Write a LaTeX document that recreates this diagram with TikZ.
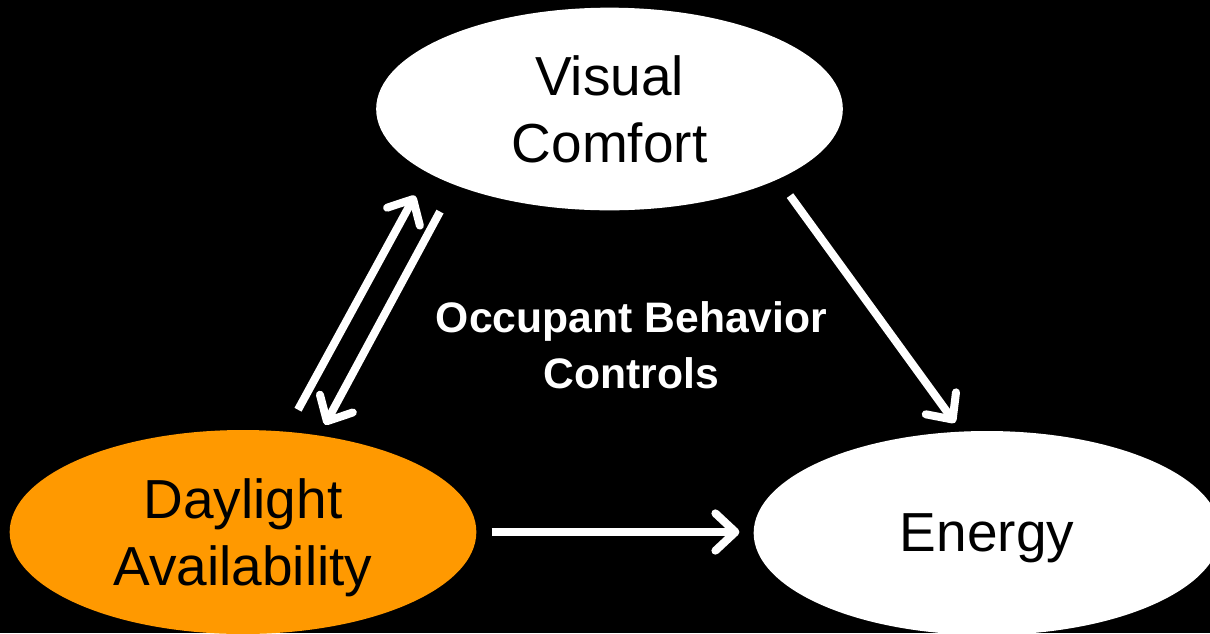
\documentclass[tikz,border=0pt]{standalone}
\usepackage{fontspec}
\setmainfont{Liberation Sans}
\usepackage{tikz}
\usetikzlibrary{arrows.meta}
\usetikzlibrary{shapes.geometric}
\usetikzlibrary{positioning}

\definecolor{sunorange}{RGB}{255,153,0}

\tikzset{
  factor/.style={ellipse, fill=white, text=black, inner sep=0pt,
    minimum width=350pt, minimum height=152pt, align=center, text depth=0pt,
    font=\fontsize{41.25}{50}\selectfont},
  influence/.style={draw=white, line width=6pt,
    -{Straight Barb[length=15pt, width=28pt, round]}},
}

\begin{document}
\begin{tikzpicture}[x=0.75pt, y=-0.75pt]
      \useasboundingbox (0,0) rectangle (1210,633);
      \fill[black] (0,0) rectangle (1210,633);
      \clip (0,0) rectangle (1210,633);

      \node (vis) [factor] at (609.5, 109) {Visual\\Comfort};
      \node (day) [factor, fill=sunorange, minimum height=153pt] at (243, 532) {Daylight\\Availability};
      \node (en) [factor, minimum height=153pt] at (987, 533) {Energy};
      \node (occ) [text=white, align=center,
        font=\bfseries\fontsize{32}{42}\selectfont] at (631.5, 345) {Occupant Behavior\\Controls};

      \draw [influence] ([shift={(55,-20)}]day.north) -- ([shift={(-194.5,-15)}]vis.south);
      \draw [influence] ([shift={(-169.5,1)}]vis.south) -- ([shift={(82,-5)}]day.north);
      \draw [influence] ([shift={(15,0)}]day.east) -- ([shift={(-14,-1)}]en.west);
      \draw [influence] ([shift={(180.5,-15)}]vis.south) -- ([shift={(-32,-8)}]en.north);
    \end{tikzpicture}
\end{document}
